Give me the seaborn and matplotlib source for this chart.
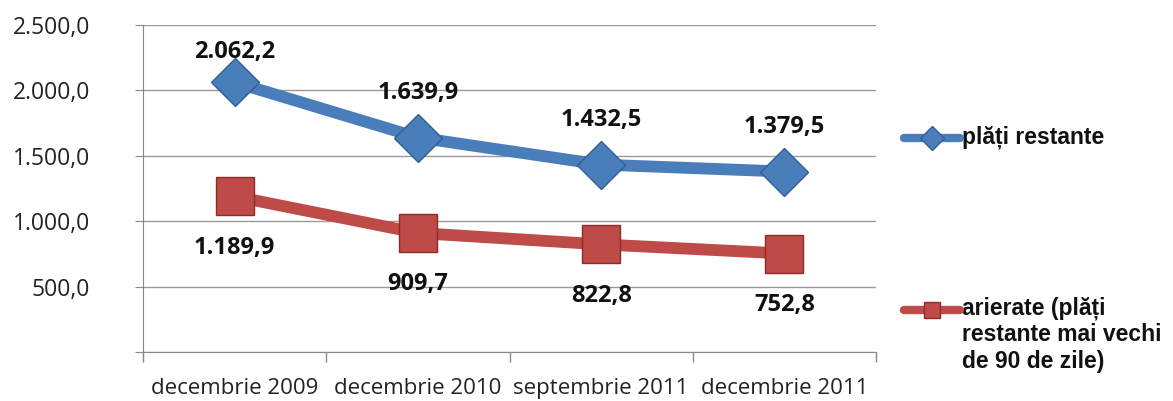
import matplotlib
matplotlib.use("Agg")
import matplotlib.pyplot as plt
import seaborn as sns
import pandas as pd
from matplotlib.lines import Line2D
from matplotlib.ticker import FuncFormatter

categories = ["decembrie 2009", "decembrie 2010", "septembrie 2011", "decembrie 2011"]
plati_restante = [2062.2, 1639.9, 1432.5, 1379.5]
arierate = [1189.9, 909.7, 822.8, 752.8]
series_names = ["plăți restante", "arierate (plăți\nrestante mai vechi\nde 90 de zile)"]
yticks = [500, 1000, 1500, 2000, 2500]

BLUE = "#4a7ebb"
RED = "#be4b48"

def ro_fmt(v, pos=None):
    s = f"{v:,.1f}"
    return s.replace(",", "X").replace(".", ",").replace("X", ".")

df = pd.DataFrame({
    "x": list(range(len(categories))) * 2,
    "val": plati_restante + arierate,
    "serie": [series_names[0]] * 4 + [series_names[1]] * 4,
})

sns.set_style("white")
plt.rcParams["font.family"] = ["Open Sans", "DejaVu Sans"]

fig = plt.figure(figsize=(11.73, 4.01), dpi=100)
ax = fig.add_axes([143 / 1173, 1 - 352 / 401, (876 - 143) / 1173, (352 - 25) / 401])

sns.lineplot(data=df, x="x", y="val", hue="serie", style="serie",
             palette=[BLUE, RED], markers=["D", "s"], dashes=False,
             linewidth=8.5, markersize=22, markeredgewidth=1.0,
             ax=ax, legend=False)
for ln, ec, ms in zip(ax.lines, ["#2f5f96", "#8f2a27"], [24, 27]):
    ln.set_markeredgecolor(ec)
    ln.set_markersize(ms)
    ln.set_solid_capstyle("round")
    ln.set_solid_joinstyle("round")

ax.set_xlim(-0.5, len(categories) - 0.5)
ax.set_ylim(0, 2500)
ax.set_xlabel("")
ax.set_ylabel("")
ax.set_xticks(range(len(categories)))
ax.set_xticks([-0.5, 0.5, 1.5, 2.5, 3.5], minor=True)
ax.set_xticklabels(categories, fontsize=16, color="#222222")
ax.tick_params(axis="x", which="major", length=0, pad=19)
ax.tick_params(axis="x", which="minor", length=7, width=1, color="#888888", direction="out", bottom=True)
ax.set_yticks([0] + yticks)
ax.yaxis.set_major_formatter(FuncFormatter(lambda v, p: "" if v == 0 else ro_fmt(v)))
ax.tick_params(axis="y", labelsize=16.5, labelcolor="#222222", length=6, color="#888888",
               pad=32, left=True)
ax.grid(axis="y", color="#999999", linewidth=1)
ax.set_axisbelow(True)
for s in ["top", "right"]:
    ax.spines[s].set_visible(False)
ax.spines["left"].set_color("#888888")
ax.spines["bottom"].set_color("#888888")

for i, v in enumerate(plati_restante):
    ax.text(i, min(v + 340, 2290), ro_fmt(v), ha="center", va="center",
            fontsize=17, fontweight="bold", color="#111111")
for i, v in enumerate(arierate):
    ax.annotate(ro_fmt(v), (i, v), xytext=(0, -37), textcoords="offset points",
                ha="center", va="center", fontsize=17, fontweight="bold", color="#111111")

h1 = Line2D([], [], color=BLUE, lw=6, marker="D", markersize=12,
            markerfacecolor=BLUE, markeredgecolor="#2f5f96", solid_capstyle="round")
h2 = Line2D([], [], color=RED, lw=6, marker="s", markersize=12,
            markerfacecolor=RED, markeredgecolor="#8f2a27", solid_capstyle="round")
legfont = {"family": ["Liberation Sans"], "weight": "bold", "size": 16.5}
lp = dict(frameon=False, handlelength=4.0, handletextpad=0, borderaxespad=0, borderpad=0,
          bbox_transform=fig.transFigure, loc="center left")
leg1 = fig.legend([h1], [""], bbox_to_anchor=(904 / 1173, 1 - 139 / 401), **lp)
leg2 = fig.legend([h2], [""], bbox_to_anchor=(904 / 1173, 1 - 311 / 401), **lp)
fig.text(962 / 1173, 1 - 137 / 401, series_names[0], ha="left", va="center",
         fontdict=legfont, color="#111111")
fig.text(962 / 1173, 1 - 296 / 401, series_names[1], ha="left", va="top",
         fontdict=legfont, color="#111111", linespacing=1.2)

fig.savefig("out.png", dpi=100)
